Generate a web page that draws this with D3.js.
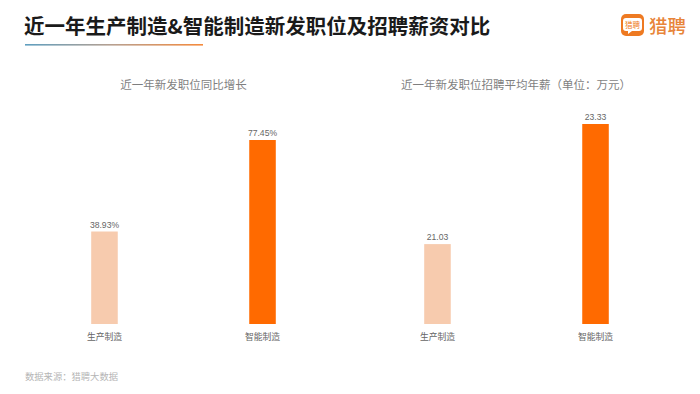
<!DOCTYPE html>
<html>
<head>
<meta charset="utf-8">
<script src="https://d3js.org/d3.v7.min.js"></script>
<style>
  html, body { margin: 0; padding: 0; background: #fff; }
  text { font-family: "Noto Sans CJK SC", "Liberation Sans", sans-serif; }
  .num { font-family: "Liberation Sans", "Noto Sans CJK SC", sans-serif; }
</style>
</head>
<body>
<div id="chart"></div>
<script>
var categories = ["生产制造", "智能制造"];
var growthValues = [38.93, 77.45];
var salaryValues = [21.03, 23.33];
var growthLabels = ["38.93%", "77.45%"];
var salaryLabels = ["21.03", "23.33"];
var barColors = ["#f7cbae", "#ff6a00"];

var width = 700, height = 394, baseline = 324;

var svg = d3.select("#chart").append("svg")
    .attr("width", width)
    .attr("height", height)
    .style("display", "block");

// title underline gradient
var grad = svg.append("defs").append("linearGradient").attr("id", "rule");
grad.append("stop").attr("offset", "0%").attr("stop-color", "#5f9fc0");
grad.append("stop").attr("offset", "50%").attr("stop-color", "#b9a08f");
grad.append("stop").attr("offset", "100%").attr("stop-color", "#f58a3c");

svg.append("text")
    .attr("x", 24).attr("y", 34)
    .attr("font-size", 20.5)
    .attr("font-weight", 700)
    .attr("fill", "#1a1a1a")
    .text("近一年生产制造&智能制造新发职位及招聘薪资对比");

svg.append("rect")
    .attr("x", 25).attr("y", 44)
    .attr("width", 178).attr("height", 1.6)
    .attr("fill", "url(#rule)");

// logo
var logo = svg.append("g");
logo.append("rect")
    .attr("x", 621).attr("y", 14).attr("width", 23).attr("height", 22)
    .attr("rx", 5).attr("fill", "#ee7a22");
logo.append("path")
    .attr("d", "M626 18h13a3 3 0 0 1 3 3v7a3 3 0 0 1 -3 3h-7l-4 3v-3h-2a3 3 0 0 1 -3 -3v-7a3 3 0 0 1 3 -3z")
    .attr("fill", "#fff");
logo.append("text")
    .attr("x", 632.5).attr("y", 28)
    .attr("text-anchor", "middle")
    .attr("font-size", 7.5)
    .attr("fill", "#ee7a22")
    .text("猎聘");
logo.append("text")
    .attr("x", 649).attr("y", 33)
    .attr("font-size", 18.5)
    .attr("font-weight", 500)
    .attr("fill", "#e8853a")
    .text("猎聘");

function drawPanel(opts) {
    var x = d3.scaleBand()
        .domain(categories)
        .range(opts.xRange)
        .paddingInner(opts.inner)
        .paddingOuter(opts.outer);

    var y = d3.scaleLinear()
        .domain(opts.domain)
        .range([baseline, opts.top]);

    svg.append("text")
        .attr("x", opts.titleX).attr("y", 89)
        .attr("text-anchor", "middle")
        .attr("font-size", 11.5)
        .attr("fill", "#7f7f7f")
        .text(opts.title);

    svg.selectAll(null)
        .data(opts.values)
        .enter()
        .append("rect")
        .attr("x", function (d, i) { return x(categories[i]); })
        .attr("y", function (d) { return y(d); })
        .attr("width", x.bandwidth())
        .attr("height", function (d) { return baseline - y(d); })
        .attr("fill", function (d, i) { return barColors[i]; });

    svg.selectAll(null)
        .data(opts.values)
        .enter()
        .append("text")
        .attr("class", "num")
        .attr("x", function (d, i) { return x(categories[i]) + x.bandwidth() / 2; })
        .attr("y", function (d) { return y(d) - 4; })
        .attr("text-anchor", "middle")
        .attr("font-size", 8.6)
        .attr("fill", "#666")
        .text(function (d, i) { return opts.labels[i]; });

    var axis = svg.append("g")
        .attr("transform", "translate(0," + baseline + ")")
        .call(d3.axisBottom(x).tickSize(0).tickPadding(10));
    axis.select(".domain").remove();
    axis.selectAll("text")
        .attr("font-size", 8.8)
        .attr("fill", "#666")
        .style("font-family", "'Noto Sans CJK SC', sans-serif");
}

drawPanel({
    title: "近一年新发职位同比增长",
    titleX: 183.5,
    values: growthValues,
    labels: growthLabels,
    domain: [0, 77.45],
    top: 140,
    xRange: [25, 342],
    inner: 0.832,
    outer: 0.419
});

drawPanel({
    title: "近一年新发职位招聘平均年薪（单位：万元）",
    titleX: 516,
    values: salaryValues,
    labels: salaryLabels,
    domain: [19.5, 23.33],
    top: 124,
    xRange: [358, 675],
    inner: 0.832,
    outer: 0.419
});

svg.append("text")
    .attr("x", 25).attr("y", 380)
    .attr("font-size", 9.3)
    .attr("fill", "#b5b5b5")
    .text("数据来源：猎聘大数据");
</script>
</body>
</html>
